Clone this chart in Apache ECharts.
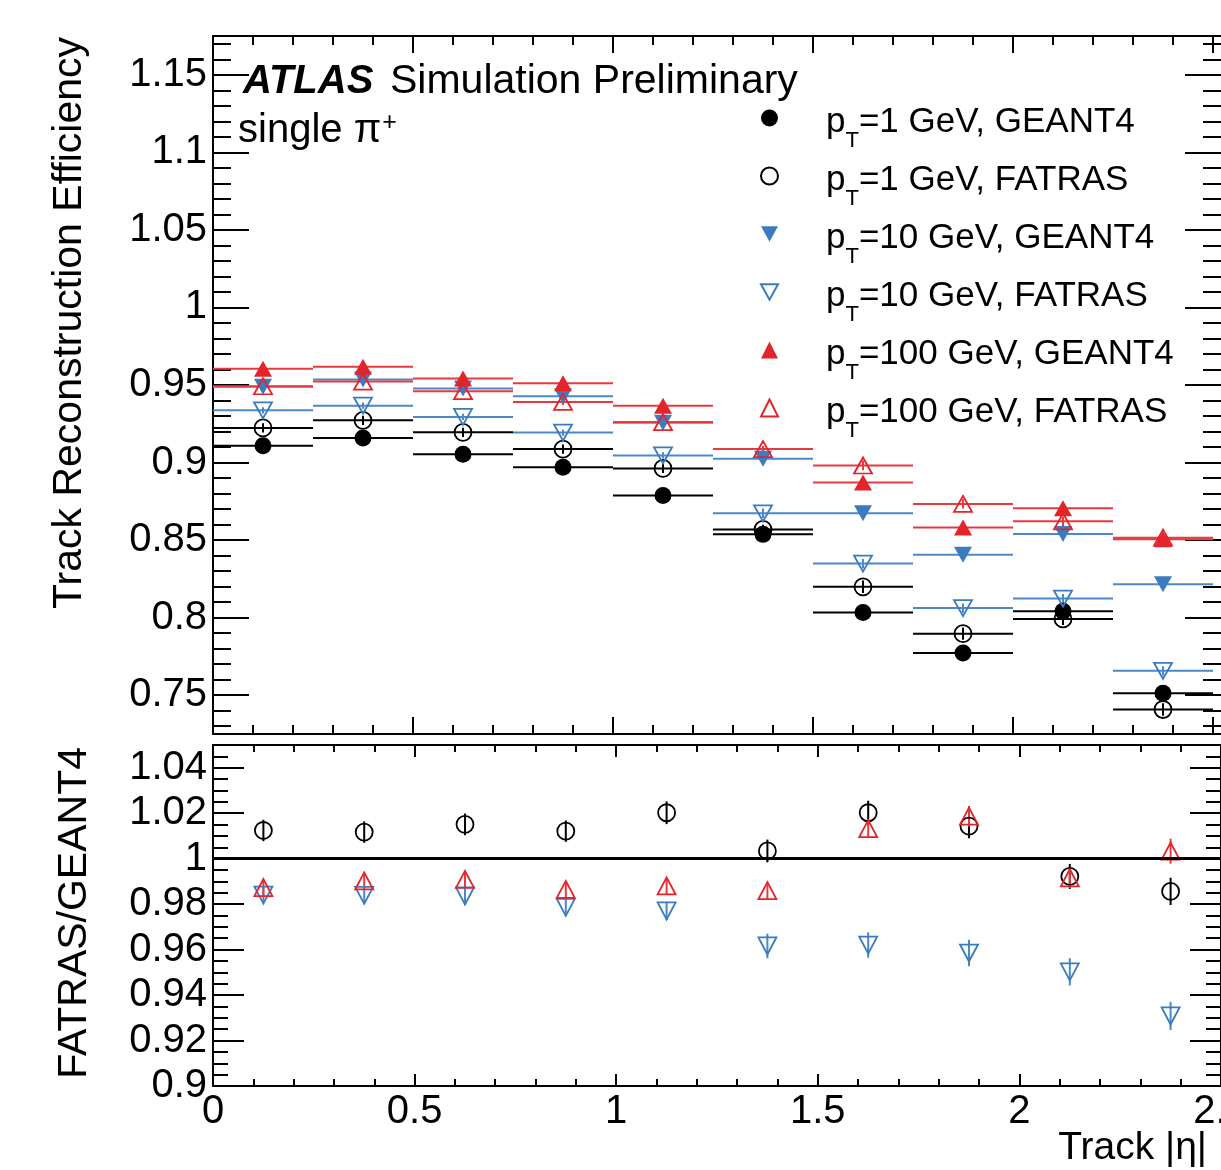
<!DOCTYPE html>
<html>
<head>
<meta charset="utf-8">
<script src="https://cdn.jsdelivr.net/npm/echarts@6/dist/echarts.min.js"></script>
<style>
html,body{margin:0;padding:0;background:#fff;}
#chart{width:1221px;height:1170px;}
</style>
</head>
<body>
<div id="chart"></div>
<script>
// ---------------- data ----------------
const BIN_CENTERS = [0.125, 0.375, 0.625, 0.875, 1.125, 1.375, 1.625, 1.875, 2.125, 2.375];
const BIN_HALF = 0.125;

const eff_pt1_geant4  = [0.9109, 0.9158, 0.9054, 0.8970, 0.8787, 0.8537, 0.8033, 0.7772, 0.8041, 0.7513];
const eff_pt1_fatras  = [0.9223, 0.9272, 0.9195, 0.9087, 0.8962, 0.8569, 0.8199, 0.7897, 0.7992, 0.7408];
const eff_pt10_geant4 = [0.9488, 0.9535, 0.9478, 0.9428, 0.9257, 0.9025, 0.8673, 0.8405, 0.8539, 0.8216];
const eff_pt10_fatras = [0.9337, 0.9367, 0.9294, 0.9193, 0.9046, 0.8673, 0.8349, 0.8062, 0.8123, 0.7657];
const eff_pt100_geant4= [0.9604, 0.9617, 0.9542, 0.9512, 0.9367, null,   0.8871, 0.8582, 0.8705, 0.8505];
const eff_pt100_fatras= [0.9492, 0.9522, 0.9460, 0.9391, 0.9261, 0.9087, 0.8981, 0.8733, 0.8621, 0.8516];

const err_pt1   = [0.003, 0.003, 0.003, 0.003, 0.003, 0.003, 0.004, 0.004, 0.004, 0.004];
const err_pt10  = [0.002, 0.002, 0.002, 0.002, 0.002, 0.003, 0.003, 0.003, 0.003, 0.003];
const err_pt100 = [0.002, 0.002, 0.002, 0.002, 0.002, 0.002, 0.003, 0.003, 0.003, 0.003];

const ratio_pt1   = [1.0124, 1.0117, 1.0151, 1.0121, 1.0202, 1.0034, 1.0202, 1.0143, 0.9922, 0.9856];
const ratio_pt10  = [0.9840, 0.9839, 0.9836, 0.9786, 0.9770, 0.9616, 0.9620, 0.9585, 0.9502, 0.9308];
const ratio_pt100 = [0.9873, 0.9902, 0.9909, 0.9865, 0.9880, 0.9859, 1.0132, 1.0187, 0.9916, 1.0033];

const ratioErr_pt1   = [0.0047, 0.0047, 0.0048, 0.0047, 0.0050, 0.0050, 0.0053, 0.0053, 0.0055, 0.0060];
const ratioErr_pt10  = [0.0035, 0.0035, 0.0036, 0.0038, 0.0040, 0.0054, 0.0056, 0.0058, 0.0060, 0.0062];
const ratioErr_pt100 = [0.0035, 0.0035, 0.0035, 0.0035, 0.0036, 0.0037, 0.0040, 0.0045, 0.0045, 0.0055];

const RATIO_REF = 1;

const LEGEND_NAMES = [
  'p_T=1 GeV, GEANT4', 'p_T=1 GeV, FATRAS',
  'p_T=10 GeV, GEANT4', 'p_T=10 GeV, FATRAS',
  'p_T=100 GeV, GEANT4', 'p_T=100 GeV, FATRAS'
];

// ---------------- styles ----------------
const BLACK = '#000000';
const BLUE = '#3b7cc0';
const RED = '#e3242b';
const BLUE_LINE = '#4a88c9';
const RED_LINE = '#e8393f';
const FONT = '"Liberation Sans", Arial, Helvetica, sans-serif';
const DOWN_TRI = 'path://M0,0 L20,0 L10,18 Z';

function pts(vals, errs) {
  const out = [];
  vals.forEach((v, i) => { if (v !== null) out.push([BIN_CENTERS[i], v, errs[i]]); });
  return out;
}

function errRender(half) {
  return function (params, api) {
    const x = api.value(0), y = api.value(1), e = api.value(2);
    const style = { stroke: api.visual('color'), lineWidth: 2 };
    const children = [];
    if (half > 0) {
      const a = api.coord([x - half, y]), b = api.coord([x + half, y]);
      children.push({ type: 'line', shape: { x1: a[0], y1: a[1], x2: b[0], y2: b[1] }, style: style });
    }
    const c = api.coord([x, y - e]), d = api.coord([x, y + e]);
    children.push({ type: 'line', shape: { x1: c[0], y1: c[1], x2: d[0], y2: d[1] }, style: style });
    return { type: 'group', children: children };
  };
}

const series = [];
function addSet(name, vals, errs, color, lineColor, symbol, size, hollow, xi, yi, half) {
  const data = pts(vals, errs);
  series.push({
    type: 'custom', name: name + ' errors', xAxisIndex: xi, yAxisIndex: yi,
    renderItem: errRender(half), data: data, z: 2, silent: true,
    itemStyle: { color: lineColor }, encode: { x: 0, y: 1 }
  });
  series.push({
    type: 'scatter', name: name, xAxisIndex: xi, yAxisIndex: yi,
    data: data.map(p => [p[0], p[1]]), symbol: symbol, symbolSize: size, z: 3, silent: true,
    itemStyle: hollow ? { color: 'rgba(255,255,255,0)', borderColor: color, borderWidth: 1.8, opacity: 1 }
                      : { color: color, borderWidth: 0, opacity: 1 },
    emphasis: { disabled: true }
  });
}

// top panel
addSet(LEGEND_NAMES[0], eff_pt1_geant4, err_pt1, BLACK, BLACK, 'circle', 17, false, 0, 0, BIN_HALF);
addSet(LEGEND_NAMES[1], eff_pt1_fatras, err_pt1, BLACK, BLACK, 'circle', 17, true, 0, 0, BIN_HALF);
addSet(LEGEND_NAMES[2], eff_pt10_geant4, err_pt10, BLUE, BLUE_LINE, DOWN_TRI, [18, 16], false, 0, 0, BIN_HALF);
addSet(LEGEND_NAMES[3], eff_pt10_fatras, err_pt10, BLUE, BLUE_LINE, DOWN_TRI, [18, 16], true, 0, 0, BIN_HALF);
addSet(LEGEND_NAMES[4], eff_pt100_geant4, err_pt100, RED, RED_LINE, 'triangle', [18, 16], false, 0, 0, BIN_HALF);
addSet(LEGEND_NAMES[5], eff_pt100_fatras, err_pt100, RED, RED_LINE, 'triangle', [18, 16], true, 0, 0, BIN_HALF);

// ratio panel
addSet('ratio pT=1', ratio_pt1, ratioErr_pt1, BLACK, BLACK, 'circle', 17, true, 2, 2, 0);
addSet('ratio pT=10', ratio_pt10, ratioErr_pt10, BLUE, BLUE_LINE, DOWN_TRI, [18, 17], true, 2, 2, 0);
addSet('ratio pT=100', ratio_pt100, ratioErr_pt100, RED, RED_LINE, 'triangle', [18, 17], true, 2, 2, 0);

series.push({
  type: 'line', name: 'unity', xAxisIndex: 2, yAxisIndex: 2, data: [], silent: true,
  markLine: {
    symbol: 'none', silent: true, animation: false,
    label: { show: false },
    lineStyle: { color: '#000', width: 3, type: 'solid' },
    data: [{ yAxis: RATIO_REF }]
  }
});

function xAxisDef(gi, pos, major, minor, labels) {
  return {
    type: 'value', gridIndex: gi, position: pos, min: 0, max: 2.5, interval: 0.5,
    axisLine: { show: true, onZero: false, lineStyle: { color: '#000', width: 2 } },
    axisTick: { show: true, inside: true, length: major, lineStyle: { color: '#000', width: 2 } },
    minorTick: { show: true, splitNumber: 5, length: minor, lineStyle: { color: '#000', width: 2 } },
    splitLine: { show: false },
    axisLabel: labels ? { show: true, color: '#000', fontSize: 40, fontFamily: FONT, margin: 6 } : { show: false }
  };
}
function yAxisDef(gi, pos, mn, mx, split, minorSplit, major, minor, labels, offset, showLine, showMin) {
  return {
    type: 'value', gridIndex: gi, position: pos, min: mn, max: mx, splitNumber: split, offset: offset,
    axisLine: { show: showLine, onZero: false, lineStyle: { color: '#000', width: 2 } },
    axisTick: { show: true, inside: true, length: major, lineStyle: { color: '#000', width: 2 } },
    minorTick: { show: true, splitNumber: minorSplit, length: minor, lineStyle: { color: '#000', width: 2 } },
    splitLine: { show: false },
    axisLabel: labels ? { show: true, color: '#000', fontSize: 40, fontFamily: FONT, margin: 6,
                          showMinLabel: showMin, showMaxLabel: false } : { show: false }
  };
}

const option = {
  animation: false,
  backgroundColor: '#fff',
  grid: [
    { left: 213, right: 8, top: 36, height: 698, containLabel: false, outerBoundsMode: 'none' },
    { left: 213, right: 0, top: 745, height: 341, containLabel: false, outerBoundsMode: 'none' }
  ],
  xAxis: [
    xAxisDef(0, 'bottom', 17, 9, false),
    xAxisDef(0, 'top', 17, 9, false),
    xAxisDef(1, 'bottom', 12, 7, true),
    xAxisDef(1, 'top', 12, 7, false)
  ],
  yAxis: [
    yAxisDef(0, 'left', 0.725, 1.175, 9, 5, 36, 18, true, 0, true, false),
    yAxisDef(0, 'right', 0.725, 1.175, 9, 5, 36, 18, false, 8, false, false),
    yAxisDef(1, 'left', 0.9, 1.05, 7, 4, 31, 15, true, 0, true, true),
    yAxisDef(1, 'right', 0.9, 1.05, 7, 4, 31, 15, false, 0, true, false)
  ],
  legend: {
    show: true, orient: 'vertical', left: 760, top: 98, padding: 0,
    itemWidth: 17, itemHeight: 17, itemGap: 4, selectedMode: false,
    data: LEGEND_NAMES,
    formatter: function (name) {
      const parts = name.split('_T');
      return '{g| }{p|' + parts[0] + '}{s|T}{p|' + parts[1] + '}';
    },
    textStyle: {
      color: '#000', fontFamily: FONT, fontSize: 35,
      rich: {
        g: { width: 43, fontSize: 35, lineHeight: 40, verticalAlign: 'top', padding: [7, 0, 0, 0], fontFamily: FONT },
        p: { fontSize: 35, lineHeight: 40, verticalAlign: 'top', padding: [7, 0, 0, 0], fontFamily: FONT, color: '#000' },
        s: { fontSize: 22, lineHeight: 22, verticalAlign: 'top', padding: [32, 0, 0, 0], fontFamily: FONT, color: '#000' }
      }
    }
  },
  graphic: [
    { type: 'text', x: 243, y: 82, z: 100, silent: true,
      style: { text: 'ATLAS', font: 'italic bold 40px ' + FONT, fill: '#000', align: 'left', verticalAlign: 'middle' } },
    { type: 'text', x: 390, y: 82, z: 100, silent: true,
      style: { text: 'Simulation Preliminary', font: '41px ' + FONT, fill: '#000', align: 'left', verticalAlign: 'middle' } },
    { type: 'text', x: 238, y: 134, z: 100, silent: true,
      style: { text: '{a|single π}{b|+}', fill: '#000', align: 'left', verticalAlign: 'middle',
        rich: {
          a: { fontSize: 40, lineHeight: 46, verticalAlign: 'top', fontFamily: FONT },
          b: { fontSize: 25, lineHeight: 18, verticalAlign: 'top', fontFamily: FONT, padding: [0, 0, 0, 1] }
        } } },
    { type: 'text', x: 70, y: 37, rotation: Math.PI / 2, z: 100, silent: true,
      style: { text: 'Track Reconstruction Efficiency', font: '41px ' + FONT, fill: '#000', align: 'right', verticalAlign: 'middle' } },
    { type: 'text', x: 75, y: 747, rotation: Math.PI / 2, z: 100, silent: true,
      style: { text: 'FATRAS/GEANT4', font: '41px ' + FONT, fill: '#000', align: 'right', verticalAlign: 'middle' } },
    { type: 'text', x: 1207, y: 1148, z: 100, silent: true,
      style: { text: 'Track |η|', font: '39px ' + FONT, fill: '#000', align: 'right', verticalAlign: 'middle' } }
  ],
  series: series
};

const chart = echarts.init(document.getElementById('chart'), null, { renderer: 'canvas' });
chart.setOption(option);
</script>
</body>
</html>
